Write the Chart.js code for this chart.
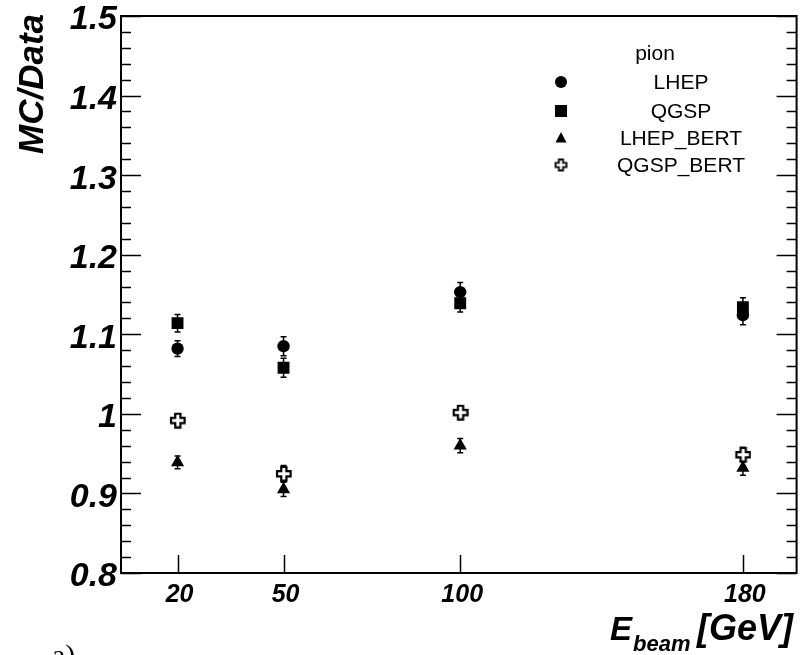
<!DOCTYPE html>
<html lang="en">
<head>
  <meta charset="UTF-8">
  <script src="https://cdn.jsdelivr.net/npm/chart.js@4.4.0/dist/chart.umd.min.js"></script>
  <title>MC/Data pion</title>
  <style>
    body { margin: 0; background: #fff; }
    #wrap { width: 805px; height: 655px; position: relative; }
  </style>
</head>
<body>
  <div id="wrap"><canvas id="myChart"></canvas></div>

<script>
  // beam energies (GeV) and their tick labels
  var energies = [20, 50, 100, 180];
  var xTickLabels = ['20', '50', '100', '180'];
  var yTickLabels = ['0.8', '0.9', '1', '1.1', '1.2', '1.3', '1.4', '1.5'];

  // MC/Data ratios
  var lhep = [1.082, 1.085, 1.153, 1.124];
  var lhepErr = [0.010, 0.012, 0.012, 0.012];
  var qgsp = [1.114, 1.058, 1.139, 1.134];
  var qgspErr = [0.011, 0.012, 0.011, 0.012];
  var lhepBert = [0.939, 0.905, 0.960, 0.932];
  var lhepBertErr = [0.008, 0.009, 0.009, 0.009];
  var qgspBert = [0.992, 0.925, 1.002, 0.949];
  var qgspBertErr = [0.006, 0.010, 0.007, 0.009];

  var seriesNames = ['LHEP', 'QGSP', 'LHEP_BERT', 'QGSP_BERT'];

  /* croce vuota (marker di QGSP_BERT) */
  function hollowCross(s, a, lw) {
    var c = document.createElement('canvas');
    var n = 2 * s + 4;
    c.width = n; c.height = n;
    var g = c.getContext('2d');
    var m = n / 2;
    g.translate(m, m);
    g.beginPath();
    g.moveTo(-a, -s); g.lineTo(a, -s); g.lineTo(a, -a); g.lineTo(s, -a);
    g.lineTo(s, a); g.lineTo(a, a); g.lineTo(a, s); g.lineTo(-a, s);
    g.lineTo(-a, a); g.lineTo(-s, a); g.lineTo(-s, -a); g.lineTo(-a, -a);
    g.closePath();
    g.fillStyle = '#fff';
    g.fill();
    g.lineWidth = lw;
    g.strokeStyle = '#000';
    g.stroke();
    return c;
  }
  var crossImg = hollowCross(6.8, 2.6, 2.2);
  var crossImgSmall = hollowCross(5.5, 2.1, 1.8);

  function pts(vals) {
    var out = [];
    for (var i = 0; i < energies.length; i++) out.push({ x: energies[i], y: vals[i] });
    return out;
  }

  var errs = [lhepErr, qgspErr, lhepBertErr, qgspBertErr];

  /* disegna cornice, tacche, etichette, barre d'errore e legenda */
  var rootStyle = {
    id: 'rootStyle',
    beforeDatasetsDraw: function (chart) {
      var ctx = chart.ctx;
      var xs = chart.scales.x, ys = chart.scales.y;
      ctx.save();
      ctx.strokeStyle = '#000';
      ctx.lineWidth = 1.5;
      chart.data.datasets.forEach(function (ds, k) {
        ds.data.forEach(function (p, i) {
          var px = xs.getPixelForValue(p.x);
          var lo = ys.getPixelForValue(p.y - errs[k][i]);
          var hi = ys.getPixelForValue(p.y + errs[k][i]);
          ctx.beginPath();
          ctx.moveTo(px, lo); ctx.lineTo(px, hi);
          ctx.moveTo(px - 3, lo); ctx.lineTo(px + 3, lo);
          ctx.moveTo(px - 3, hi); ctx.lineTo(px + 3, hi);
          ctx.stroke();
        });
      });
      ctx.restore();
    },
    afterDraw: function (chart) {
      var ctx = chart.ctx;
      var a = chart.chartArea;
      var xs = chart.scales.x, ys = chart.scales.y;
      ctx.save();
      ctx.strokeStyle = '#000';
      ctx.fillStyle = '#000';

      // tacche asse y (sinistra e destra, verso l'interno)
      ctx.lineWidth = 1.5;
      ctx.beginPath();
      for (var j = 0; j <= 35; j++) {
        var v = 0.8 + j * 0.02;
        var py = Math.round(ys.getPixelForValue(v)) + 0.5;
        var len = (j % 5 === 0) ? 20 : 10;
        ctx.moveTo(a.left, py); ctx.lineTo(a.left + len, py);
        ctx.moveTo(a.right, py); ctx.lineTo(a.right - len, py);
      }
      // tacche asse x solo alle energie
      energies.forEach(function (e) {
        var px = Math.round(xs.getPixelForValue(e)) + 0.5;
        ctx.moveTo(px, a.bottom); ctx.lineTo(px, a.bottom - 18);
      });
      ctx.stroke();

      // cornice
      ctx.lineWidth = 2;
      ctx.strokeRect(a.left, a.top, a.right - a.left, a.bottom - a.top);

      // etichette y
      ctx.font = 'italic bold 34px "Liberation Sans", Arial, sans-serif';
      ctx.textAlign = 'right';
      ctx.textBaseline = 'middle';
      yTickLabels.forEach(function (t) {
        ctx.fillText(t, a.left - 4, ys.getPixelForValue(parseFloat(t)) + 4);
      });

      // etichette x
      ctx.font = 'italic bold 25px "Liberation Sans", Arial, sans-serif';
      ctx.textAlign = 'center';
      ctx.textBaseline = 'alphabetic';
      energies.forEach(function (e, i) {
        ctx.fillText(xTickLabels[i], xs.getPixelForValue(e) + 2, 602);
      });

      // titolo asse x
      ctx.font = 'italic bold 33px "Liberation Sans", Arial, sans-serif';
      ctx.textAlign = 'left';
      ctx.fillText('E', 610, 640);
      ctx.font = 'italic bold 22px "Liberation Sans", Arial, sans-serif';
      ctx.fillText('beam', 633, 651);
      ctx.font = 'italic bold 36px "Liberation Sans", Arial, sans-serif';
      ctx.fillText('[GeV]', 697, 640);

      // titolo asse y
      ctx.save();
      ctx.translate(43, 14);
      ctx.rotate(-Math.PI / 2);
      ctx.font = 'italic bold 35px "Liberation Sans", Arial, sans-serif';
      ctx.textAlign = 'right';
      ctx.fillText('MC/Data', 0, 0);
      ctx.restore();

      // "a)" tagliato in basso
      ctx.font = '30px "Liberation Serif", serif';
      ctx.textAlign = 'left';
      ctx.fillText('a)', 52, 665);

      // legenda
      ctx.font = '21px "Liberation Sans", Arial, sans-serif';
      ctx.textAlign = 'center';
      ctx.textBaseline = 'middle';
      ctx.fillText('pion', 655, 54);
      var rows = [82, 111, 138, 165];
      var sx = 561;
      rows.forEach(function (ry, k) {
        ctx.fillText(seriesNames[k], 681, ry + 1);
      });
      ctx.beginPath(); ctx.arc(sx, rows[0], 6, 0, 2 * Math.PI); ctx.fill();
      ctx.fillRect(sx - 6, rows[1] - 6, 12, 12);
      ctx.beginPath();
      ctx.moveTo(sx, rows[2] - 6); ctx.lineTo(sx + 5.5, rows[2] + 4.5); ctx.lineTo(sx - 5.5, rows[2] + 4.5);
      ctx.closePath(); ctx.fill();
      ctx.drawImage(crossImgSmall, sx - crossImgSmall.width / 2, rows[3] - crossImgSmall.height / 2);
      ctx.restore();
    }
  };

  var ctx = document.getElementById('myChart').getContext('2d');
  var myChart = new Chart(ctx, {
    type: 'scatter',
    data: {
      datasets: [
        { label: seriesNames[0], data: pts(lhep), pointStyle: 'circle', pointRadius: 6.2,
          backgroundColor: '#000', borderColor: '#000', borderWidth: 0 },
        { label: seriesNames[1], data: pts(qgsp), pointStyle: 'rect', pointRadius: 8.4,
          backgroundColor: '#000', borderColor: '#000', borderWidth: 0 },
        { label: seriesNames[2], data: pts(lhepBert), pointStyle: 'triangle', pointRadius: 7.6,
          backgroundColor: '#000', borderColor: '#000', borderWidth: 0 },
        { label: seriesNames[3], data: pts(qgspBert), pointStyle: crossImg, pointRadius: 7,
          backgroundColor: '#fff', borderColor: '#000', borderWidth: 0 }
      ]
    },
    options: {
      responsive: true,
      maintainAspectRatio: false,
      animation: false,
      layout: { padding: { left: 121, top: 16, right: 4, bottom: 82 } },
      scales: {
        x: { type: 'linear', min: 4, max: 195.2, display: false },
        y: { type: 'linear', min: 0.8, max: 1.5, display: false }
      },
      plugins: {
        legend: { display: false },
        tooltip: { enabled: false }
      }
    },
    plugins: [rootStyle]
  });
</script>
</body>
</html>
